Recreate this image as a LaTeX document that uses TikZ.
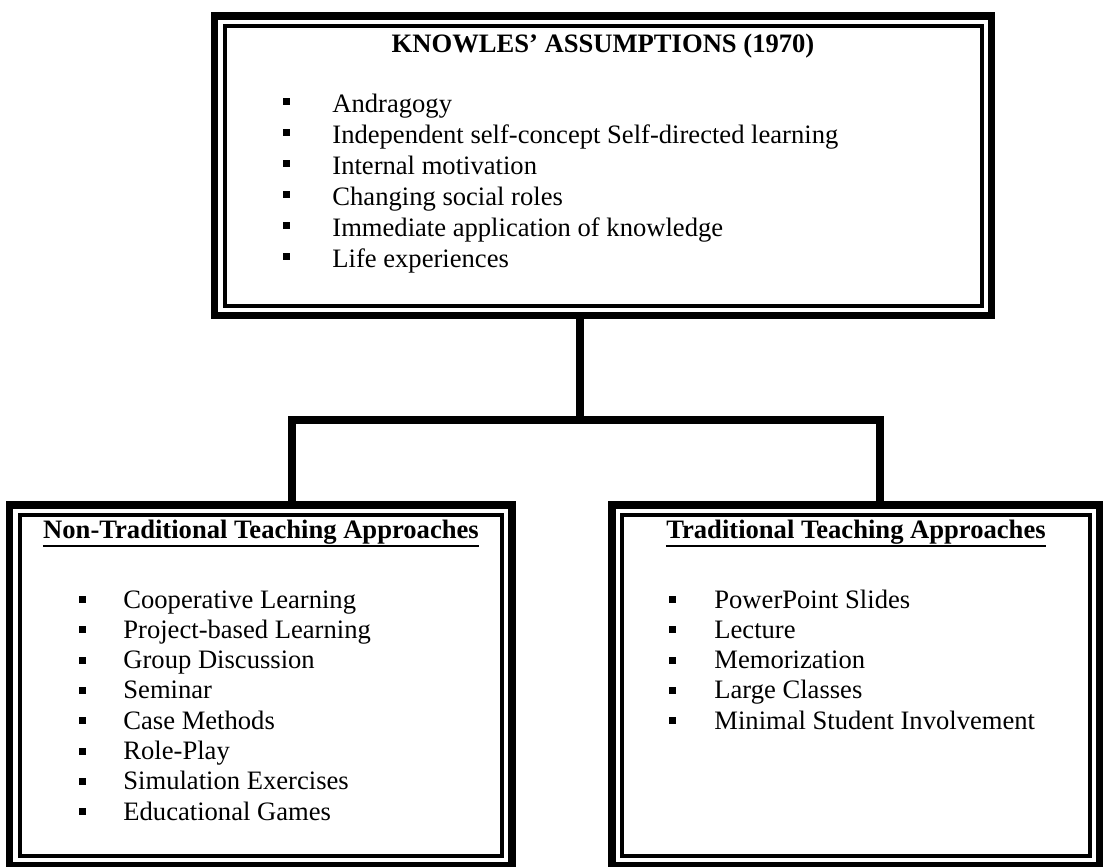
\documentclass[tikz,border=0pt]{standalone}
\usepackage{fontspec}
\setmainfont{Liberation Serif}
\usetikzlibrary{calc}

\begin{document}
\begin{tikzpicture}[x=0.5pt,y=-0.5pt,font=\fontsize{13.3}{15.25}\selectfont,
  box/.style={draw,line width=3.8pt,inner sep=0pt,outer sep=0pt},
  inbox/.style={line width=2pt},
  link/.style={line width=3.8pt},
  head/.style={font=\fontsize{13.3}{15.25}\selectfont\bfseries,anchor=base,inner sep=0pt},
  entry/.style={anchor=base west,inner sep=0pt}]
\useasboundingbox (0,0) rectangle (1103,867);

\begin{scope}
\node[box,minimum width=388.5pt,minimum height=149.75pt] (knowles) at (603,165.75) {};
\node[box,minimum width=251.25pt,minimum height=180.5pt] (nontrad) at (260.75,685.5) {};
\node[box,minimum width=244pt,minimum height=180.5pt] (trad) at (856,685.5) {};

\foreach \n in {knowles,nontrad,trad}
  \draw[inbox] ([shift={(5pt,-5pt)}]\n.north west) rectangle ([shift={(-5pt,5pt)}]\n.south east);

\path ([xshift=-11.5pt]knowles.south) ++(0,104.5) coordinate (fork);
\draw[link] ([xshift=-11.5pt]knowles.south) -- (fork);
\draw[link] ([xshift=15.5pt]nontrad.north) |- (fork) -| ([xshift=12pt]trad.north);
\end{scope}

\node[head] (knowlesT) at (603,53) {KNOWLES’ ASSUMPTIONS (1970)};
\node[head] (nontradT) at (261,538) {Non-Traditional Teaching Approaches};
\node[head] (tradT) at (856,538) {Traditional Teaching Approaches};
\draw[line width=1.1pt] ([yshift=-4pt]nontradT.base west) -- ([yshift=-4pt]nontradT.base east);
\draw[line width=1.1pt] ([yshift=-4pt]tradT.base west) -- ([yshift=-4pt]tradT.base east);

\foreach \t [count=\i from 0] in {Andragogy,
    Independent self-concept Self-directed learning,
    Internal motivation, Changing social roles,
    Immediate application of knowledge, Life experiences} {
  \node[entry] (k\i) at (332,112+31*\i) {\t};
  \fill (283,105+31*\i) rectangle ++(7,-7);
}

\foreach \t [count=\i from 0] in {Cooperative Learning, Project-based Learning,
    Group Discussion, Seminar, Case Methods, Role-Play,
    Simulation Exercises, Educational Games} {
  \node[entry] (n\i) at (123,608+30.3*\i) {\t};
  \fill (79,603+30.3*\i) rectangle ++(7,-7);
}

\foreach \t [count=\i from 0] in {PowerPoint Slides, Lecture, Memorization,
    Large Classes, Minimal Student Involvement} {
  \node[entry] (t\i) at (714,608+30.3*\i) {\t};
  \fill (669,603+30.3*\i) rectangle ++(7,-7);
}

\end{tikzpicture}
\end{document}
